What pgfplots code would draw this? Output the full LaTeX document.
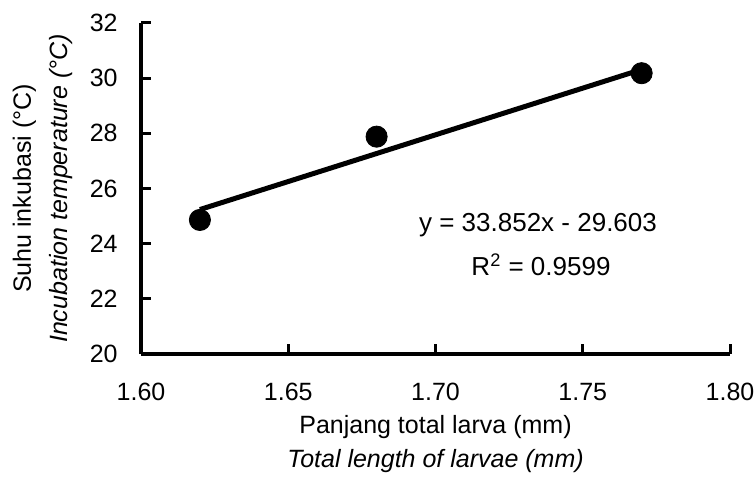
\documentclass[border=0pt]{standalone}
\usepackage{fontspec}
\setmainfont{Liberation Sans}
\usepackage{pgfplots}
\pgfplotsset{compat=1.18}
\begin{document}
\fontsize{12.5bp}{14bp}\selectfont
\begin{tikzpicture}
\begin{axis}[
  at={(0,0)}, anchor=origin,
  scale only axis, width=294.5bp, height=165.5bp,
  xmin=1.60, xmax=1.80, ymin=20, ymax=32,
  axis x line=bottom, axis y line=left,
  axis line style={line width=2bp, -},
  xtick={1.60,1.65,1.70,1.75,1.80},
  ytick={20,22,24,26,28,30,32},
  tick align=inside,
  major tick length=5bp,
  tick style={line width=1.5bp, black},
  /pgf/number format/assume math mode=true,
  xticklabel={\pgfmathprintnumber[fixed,fixed zerofill,precision=2]{\tick}},
  yticklabel={\pgfmathprintnumber[fixed,precision=0]{\tick}},
  xticklabel style={anchor=base, inner sep=0pt, yshift=-23bp, font=\fontsize{12.5bp}{14bp}\selectfont},
  yticklabel style={anchor=east, inner sep=0pt, xshift=-11.5bp, font=\fontsize{12.5bp}{14bp}\selectfont},
  clip=false,
]
\addplot[black, line width=2.5bp] coordinates {(1.62,25.237) (1.77,30.315)};
\addplot[only marks, mark=*, mark size=5.3bp, black] coordinates {(1.62,24.86) (1.68,27.88) (1.77,30.18)};
\end{axis}
\node[anchor=base, font=\fontsize{12.5bp}{14bp}\selectfont] at (147.25bp,-39.5bp) {Panjang total larva (mm)};
\node[anchor=base, font=\fontsize{12.5bp}{14bp}\selectfont\itshape] at (147.25bp,-56.5bp) {Total length of larvae (mm)};
\node[anchor=base, rotate=90, font=\fontsize{12.5bp}{14bp}\selectfont] at (-55bp,82.75bp) {Suhu inkubasi (°C)};
\node[anchor=base, rotate=90, font=\fontsize{12.5bp}{14bp}\selectfont\itshape] at (-37bp,82.75bp) {Incubation temperature (°C)};
\node[anchor=base, font=\fontsize{13bp}{15bp}\selectfont] at (198.5bp,61bp) {y = 33.852x - 29.603};
\node[anchor=base, font=\fontsize{13bp}{15bp}\selectfont] at (200bp,39.5bp) {R\textsuperscript{2} = 0.9599};
\path[use as bounding box] (-70.5bp,-58.5bp) rectangle (307.5bp,177bp);
\end{tikzpicture}
\end{document}
